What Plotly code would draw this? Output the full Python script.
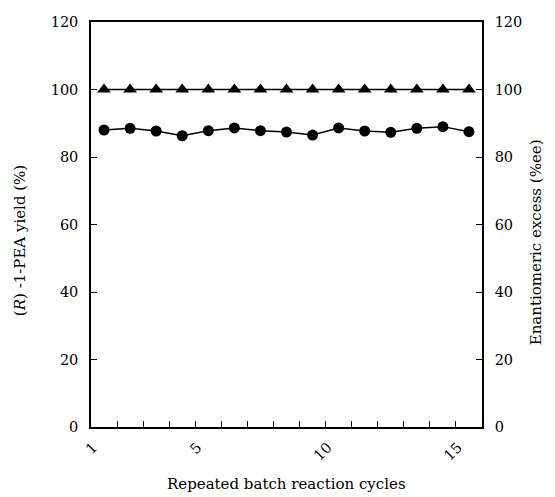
import plotly.graph_objects as go

cycles = list(range(1, 16))
yield_pct = [88.0, 88.5, 87.7, 86.3, 87.8, 88.6, 87.8, 87.4, 86.5, 88.6, 87.7, 87.3, 88.5, 89.0, 87.5]
ee_pct = [100] * 15
x_label_vals = [1, 5, 10, 15]
x_label_text = ["1", "5", "10", "15"]
y_ticks = [0, 20, 40, 60, 80, 100, 120]

FONT = "DejaVu Serif"
LABEL_SHIFT = -0.42  # labels sit slightly left of category centres

fig = go.Figure()
fig.add_trace(go.Scatter(
    x=cycles, y=yield_pct, mode="lines+markers", name="(R)-1-PEA yield",
    line=dict(color="black", width=1.5),
    marker=dict(symbol="circle", size=11, color="black"),
    xaxis="x", yaxis="y",
))
fig.add_trace(go.Scatter(
    x=cycles, y=ee_pct, mode="lines+markers", name="Enantiomeric excess",
    line=dict(color="black", width=1.5),
    marker=dict(symbol="triangle-up", size=12, color="black"),
    xaxis="x", yaxis="y2",
))

axis_common = dict(
    showgrid=False, zeroline=False, showline=True, linecolor="black", linewidth=1.5,
    ticks="inside", ticklen=6, tickwidth=1.2, tickcolor="black",
    tickfont=dict(family=FONT, size=14.5, color="black"),
)

fig.update_layout(
    width=555, height=497,
    margin=dict(l=91, r=73, t=22, b=70),
    plot_bgcolor="white", paper_bgcolor="white",
    showlegend=False,
    font=dict(family=FONT, color="black"),
    xaxis=dict(
        range=[0.5, 15.5], mirror=True,
        tickmode="array", tickvals=[c + 0.5 for c in cycles[:-1]], showticklabels=False,
        **axis_common,
    ),
    xaxis2=dict(
        range=[0.5, 15.5], overlaying="x", side="bottom", showgrid=False, zeroline=False,
        showline=False, ticks="", tickmode="array", ticklabelstandoff=8,
        tickvals=[v + LABEL_SHIFT for v in x_label_vals], ticktext=x_label_text,
        tickangle=-45, tickfont=dict(family=FONT, size=14.5, color="black"),
    ),
    yaxis=dict(range=[0, 120], tickvals=y_ticks, ticklabelstandoff=8, **axis_common),
    yaxis2=dict(range=[0, 120], tickvals=y_ticks, overlaying="y", side="right",
                ticklabelstandoff=8, **axis_common),
    annotations=[
        dict(text="Repeated batch reaction cycles", xref="paper", yref="paper",
             x=0.5, y=-0.14, yanchor="middle", showarrow=False,
             font=dict(family=FONT, size=15, color="black")),
        dict(text="(<i>R</i>) -1-PEA yield (%)", xref="paper", yref="paper",
             x=-0.183, y=0.46, xanchor="center", yanchor="middle", textangle=-90,
             showarrow=False, font=dict(family=FONT, size=15, color="black")),
        dict(text="Enantiomeric excess (%ee)", xref="paper", yref="paper",
             x=1.137, y=0.455, xanchor="center", yanchor="middle", textangle=-90,
             showarrow=False, font=dict(family=FONT, size=15, color="black")),
    ],
)
# invisible trace to activate the label axis
fig.add_trace(go.Scatter(x=[1], y=[None], xaxis="x2", yaxis="y", showlegend=False,
                         hoverinfo="skip"))

fig.write_html("out.html")
